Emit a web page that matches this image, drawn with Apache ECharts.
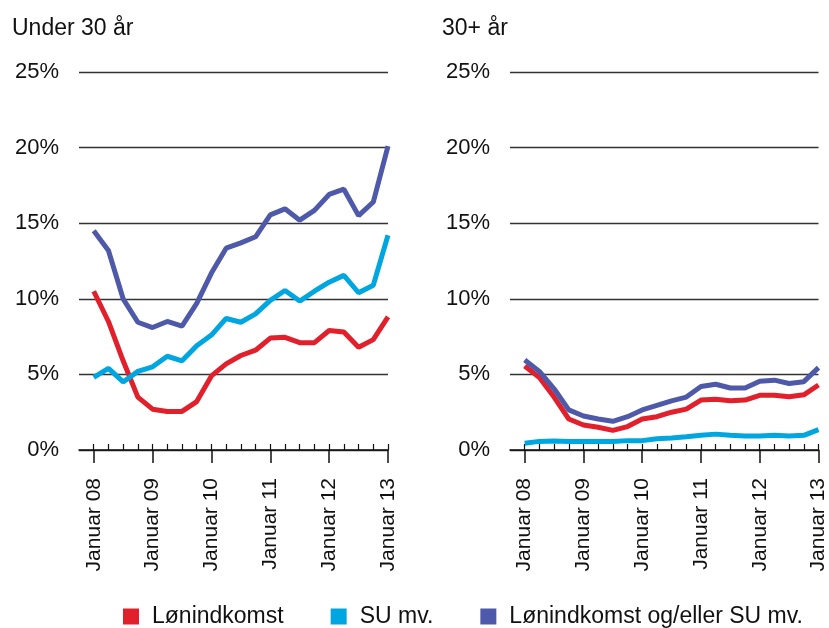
<!DOCTYPE html>
<html>
<head>
<meta charset="utf-8">
<script src="https://cdn.jsdelivr.net/npm/echarts@6/dist/echarts.min.js"></script>
<style>
  html, body { margin: 0; padding: 0; background: #fff; }
  #chart { width: 829px; height: 628px; }
</style>
</head>
<body>
<div id="chart"></div>
<script>
// kvartaler jan 08 .. jan 13 (21 punkter)
const yearLabels = ['Januar 08', 'Januar 09', 'Januar 10', 'Januar 11', 'Januar 12', 'Januar 13']
const seriesNames = ['Lønindkomst', 'SU mv.', 'Lønindkomst og/eller SU mv.']
const colors = ['#e2202b', '#00a6e0', '#4e5aa9']

// Under 30 år
const young_lon = [10.5, 8.5, 5.9, 3.5, 2.7, 2.55, 2.55, 3.2, 4.9, 5.7, 6.25, 6.6, 7.4, 7.45, 7.1, 7.1, 7.9, 7.8, 6.8, 7.3, 8.8]
const young_su = [4.8, 5.4, 4.5, 5.2, 5.5, 6.2, 5.9, 6.9, 7.6, 8.7, 8.45, 9.0, 9.9, 10.55, 9.85, 10.5, 11.1, 11.55, 10.4, 10.9, 14.2]
const young_begge = [14.5, 13.2, 10.0, 8.45, 8.1, 8.5, 8.2, 9.7, 11.7, 13.35, 13.7, 14.1, 15.55, 15.95, 15.2, 15.85, 16.9, 17.25, 15.5, 16.4, 20.1]

// 30+ år
const old_lon = [5.55, 4.8, 3.5, 2.05, 1.65, 1.5, 1.3, 1.55, 2.05, 2.2, 2.5, 2.7, 3.3, 3.35, 3.25, 3.3, 3.62, 3.62, 3.52, 3.65, 4.3]
const old_su = [0.45, 0.57, 0.6, 0.57, 0.57, 0.57, 0.57, 0.62, 0.62, 0.75, 0.8, 0.88, 0.98, 1.05, 0.97, 0.93, 0.93, 0.97, 0.93, 0.97, 1.35]
const old_begge = [5.95, 5.2, 4.05, 2.65, 2.25, 2.05, 1.9, 2.2, 2.65, 2.95, 3.25, 3.5, 4.2, 4.35, 4.1, 4.1, 4.55, 4.62, 4.4, 4.52, 5.45]

const font = "'Liberation Sans', Arial, Helvetica, sans-serif"
const quarters = young_lon.map((v, i) => i)
const years = quarters.filter(q => q % 4 === 0)

const chart = echarts.init(document.getElementById('chart'))

const grids = [
  { left: 79, right: 441, top: 72, bottom: 178 },
  { left: 510, right: 10, top: 72, bottom: 178 }
]

const xMajor = gi => ({
  type: 'value', gridIndex: gi, min: -1, max: 20,
  splitLine: { show: false },
  axisLine: { show: true, onZero: false, lineStyle: { color: '#111', width: 1.5 } },
  axisTick: { show: true, customValues: years, length: 13, lineStyle: { color: '#111', width: 1.5 } },
  axisLabel: {
    show: true, customValues: years, rotate: 90, margin: 28,
    fontFamily: font, fontSize: 21, color: '#111',
    formatter: v => yearLabels[Math.round(v / 4)]
  }
})

const xMinor = gi => ({
  type: 'value', gridIndex: gi, min: -1, max: 20,
  splitLine: { show: false },
  axisLine: { show: false },
  axisTick: { show: true, customValues: quarters, length: 6, lineStyle: { color: '#111', width: 1.2 } },
  axisLabel: { show: false }
})

const yAxis = gi => ({
  type: 'value', gridIndex: gi, min: 0, max: 25, interval: 5,
  axisLine: { show: false },
  axisTick: { show: false },
  splitLine: { lineStyle: { color: '#333', width: 1.3 } },
  axisLabel: {
    margin: 20, fontFamily: font, fontSize: 22, color: '#111',
    formatter: '{value}%'
  }
})

const mkLine = (name, values, gi, idx) => ({
  name: name,
  type: 'line',
  xAxisIndex: gi * 2,
  yAxisIndex: gi,
  data: values.map((v, i) => [i, v]),
  symbol: 'none',
  lineStyle: { width: 5, color: colors[idx] },
  itemStyle: { color: colors[idx] },
  z: 3 + idx
})

chart.setOption({
  animation: false,
  backgroundColor: '#fff',
  title: [
    { text: 'Under 30 år', left: 7, top: 12, textStyle: { fontFamily: font, fontSize: 23, fontWeight: 'normal', color: '#111' } },
    { text: '30+ år', left: 437, top: 12, textStyle: { fontFamily: font, fontSize: 23, fontWeight: 'normal', color: '#111' } }
  ],
  legend: {
    data: seriesNames,
    left: 118, top: 600,
    icon: 'rect', itemWidth: 16, itemHeight: 16, itemGap: 47,
    textStyle: { fontFamily: font, fontSize: 23, color: '#111', padding: [0, 0, 0, 8] }
  },
  grid: grids,
  xAxis: [xMajor(0), xMinor(0), xMajor(1), xMinor(1)],
  yAxis: [yAxis(0), yAxis(1)],
  series: [
    mkLine(seriesNames[0], young_lon, 0, 0),
    mkLine(seriesNames[1], young_su, 0, 1),
    mkLine(seriesNames[2], young_begge, 0, 2),
    mkLine(seriesNames[0], old_lon, 1, 0),
    mkLine(seriesNames[1], old_su, 1, 1),
    mkLine(seriesNames[2], old_begge, 1, 2)
  ]
})

window.addEventListener('resize', () => chart.resize())
</script>
</body>
</html>
